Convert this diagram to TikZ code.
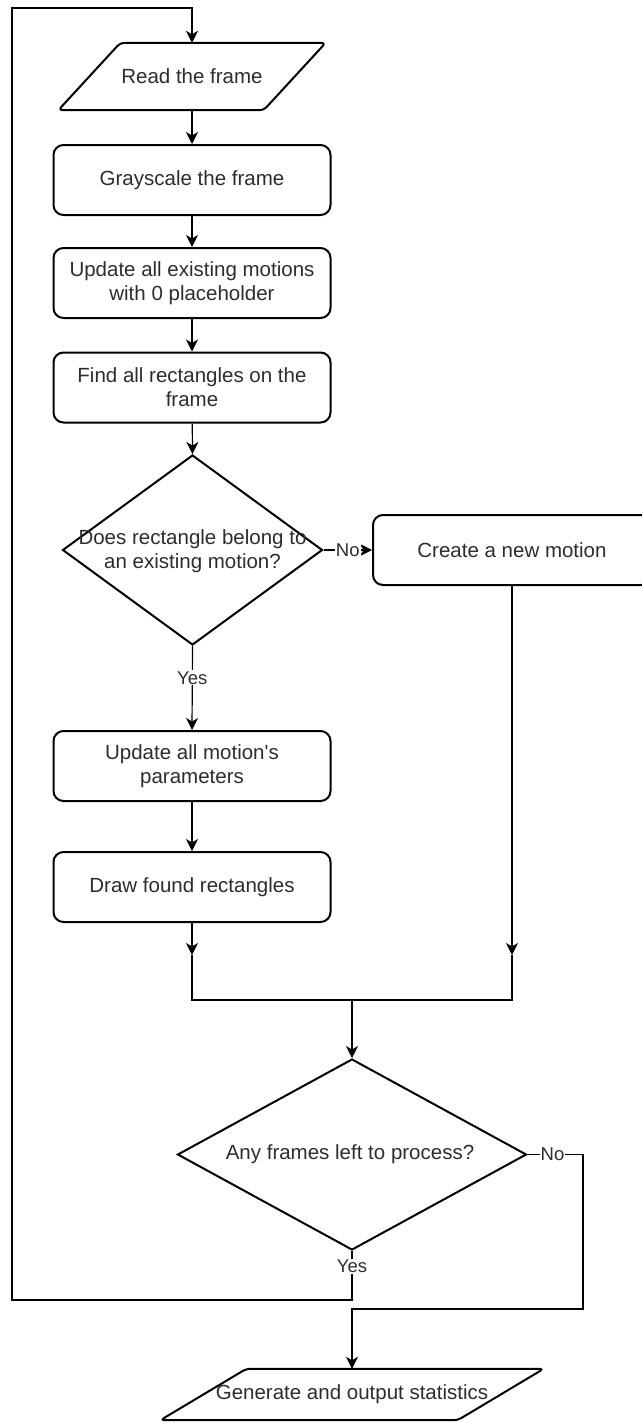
\documentclass[tikz,border=0pt]{standalone}
\usepackage{fontspec}
\setmainfont{Liberation Sans}
\usetikzlibrary{shapes.geometric,arrows.meta}
\definecolor{txtc}{RGB}{45,45,45}
\newcommand{\mainfs}{\fontsize{20.5}{24}\selectfont}
\newcommand{\lblfs}{\fontsize{18.5}{21}\selectfont}
\begin{document}
\begin{tikzpicture}[x=1pt,y=-1pt,
  box/.style={draw, line width=2pt, rounded corners=10pt, minimum width=277pt,
    minimum height=70pt, text=txtc, font=\mainfs, align=center, inner sep=2pt},
  iotext/.style={text=txtc, font=\mainfs, align=center, inner sep=0pt},
  ioshape/.style={draw, line width=2pt, rounded corners=4pt, line join=round},
  decision/.style={diamond, draw, line width=2pt, inner sep=0pt},
  dtext/.style={text=txtc, font=\mainfs, align=center, inner sep=0pt},
  lbl/.style={fill=white, text=txtc, font=\lblfs, inner sep=1pt},
  conn/.style={line width=1.2pt},
  arr/.style={conn, -{Stealth[length=12pt,width=12pt,inset=3.5pt]}},
  merge/.style={line width=2pt},
  marr/.style={merge, -{Stealth[length=12pt,width=12pt,inset=3.5pt]}}
]
\useasboundingbox (0,0) rectangle (641,1424);

% nodes
\node[iotext, minimum width=205pt, minimum height=67pt] (read) at (192,76.5) {Read the frame};
\draw[ioshape] ([xshift=31pt]read.north west) -- ([xshift=31pt]read.north east)
  -- ([xshift=-31pt]read.south east) -- ([xshift=-31pt]read.south west) -- cycle;

\node[box] (gray) at (192,180) {Grayscale the frame};
\node[box] (upd0) at (192,283) {Update all existing motions\\with 0 placeholder};
\node[box] (find) at (192,387.5) {Find all rectangles on the\\frame};

\node[decision, minimum width=260pt, minimum height=190pt] (d1) at (192.5,550) {};
\node[dtext] (d1t) at (192.5,551) {Does rectangle belong to\\an existing motion?};

\node[box, minimum width=278pt] (create) at (512,550) {Create a new motion};

\node[box] (upd2) at (192,766) {Update all motion\textquotesingle s\\parameters};
\node[box] (drawr) at (192,887) {Draw found rectangles};

\node[decision, minimum width=349pt, minimum height=191pt] (d2) at (352,1154.5) {};
\node[dtext] (d2t) at (350,1154) {Any frames left to process?};

\node[iotext, minimum width=297pt, minimum height=51pt] (gen) at (352,1394.5) {Generate and output statistics};
\draw[ioshape] ([xshift=43pt]gen.north west) -- ([xshift=43pt]gen.north east)
  -- ([xshift=-43pt]gen.south east) -- ([xshift=-43pt]gen.south west) -- cycle;

% helper coordinates
\coordinate (m1) at (192,955);
\coordinate (m2) at (512,955);
\coordinate (mL) at (192,1000);
\coordinate (mR) at (512,1000);
\coordinate (mC) at (352,1000);
\coordinate (loopA) at (352,1300);
\coordinate (loopB) at (12,1300);
\coordinate (loopC) at (12,8);
\coordinate (loopD) at (192,8);
\coordinate (noA) at (583,1154.5);
\coordinate (noB) at (583,1309);
\coordinate (noC) at (352,1309);

% connectors
\draw[arr] (read) -- (gray);
\draw[arr] (gray) -- (upd0);
\draw[arr] (upd0) -- (find);
\draw[arr] (find) -- (d1.north);
\draw[arr] (d1.east) -- node[lbl]{No} (create.west);
\draw[arr] (d1.south) -- node[lbl, pos=0.38]{Yes} (upd2.north);
\draw[arr] (upd2) -- (drawr);
\draw[arr] (drawr.south) -- (m1);
\draw[arr] (create.south) -- (m2);
\draw[merge] (m1) -- (mL) -- (mR) -- (m2);
\draw[marr] (mC) -- (d2.north);
\draw[arr] (d2.south) -- node[lbl, pos=0.32]{Yes} (loopA) -- (loopB) -- (loopC) -- (loopD) -- (read.north);
\draw[arr] (d2.east) -- node[lbl, pos=0.45]{No} (noA) -- (noB) -- (noC) -- (gen.north);
\end{tikzpicture}
\end{document}
